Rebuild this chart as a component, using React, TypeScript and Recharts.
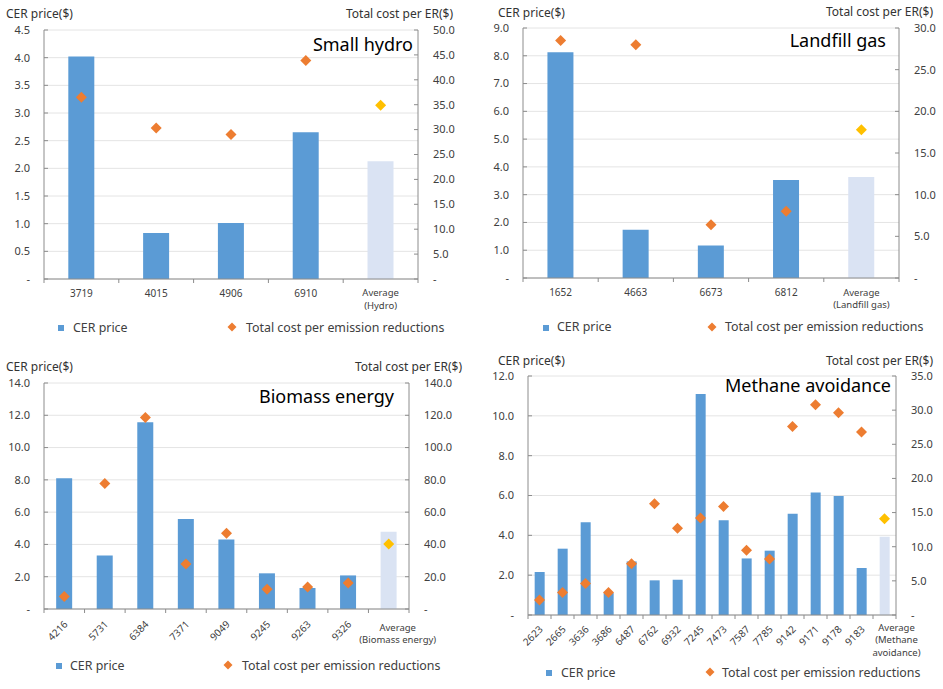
import React from "react";
import { ComposedChart, Bar, Scatter, XAxis, YAxis, CartesianGrid, Cell } from "recharts";

// ---------------- data ----------------
const hydroCategories = ["3719", "4015", "4906", "6910", "Average\n(Hydro)"];
const hydroCerPrice = [4.02, 0.83, 1.01, 2.65, 2.13];
const hydroTotalCost = [36.5, 30.3, 29.0, 43.9, 34.9];
const hydroLeftTicks = [0, 0.5, 1, 1.5, 2, 2.5, 3, 3.5, 4, 4.5];
const hydroRightTicks = [0, 5, 10, 15, 20, 25, 30, 35, 40, 45, 50];

const landfillCategories = ["1652", "4663", "6673", "6812", "Average\n(Landfill gas)"];
const landfillCerPrice = [8.13, 1.74, 1.17, 3.53, 3.64];
const landfillTotalCost = [28.5, 28.0, 6.4, 8.0, 17.8];
const landfillLeftTicks = [0, 1, 2, 3, 4, 5, 6, 7, 8, 9];
const landfillRightTicks = [0, 5, 10, 15, 20, 25, 30];

const biomassCategories = ["4216", "5731", "6384", "7371", "9049", "9245", "9263", "9326", "Average\n(Biomass energy)"];
const biomassCerPrice = [8.1, 3.32, 11.57, 5.57, 4.31, 2.21, 1.3, 2.08, 4.78];
const biomassTotalCost = [7.8, 77.7, 118.6, 27.8, 47.0, 12.2, 13.6, 16.1, 40.2];
const biomassLeftTicks = [0, 2, 4, 6, 8, 10, 12, 14];
const biomassRightTicks = [0, 20, 40, 60, 80, 100, 120, 140];

const methaneCategories = ["2623", "2665", "3636", "3686", "6487", "6762", "6932", "7245", "7473", "7587", "7785", "9142", "9171", "9178", "9183", "Average\n(Methane\navoidance)"];
const methaneCerPrice = [2.16, 3.33, 4.66, 1.1, 2.69, 1.74, 1.77, 11.1, 4.76, 2.84, 3.23, 5.08, 6.15, 5.98, 2.36, 3.93];
const methaneTotalCost = [2.2, 3.3, 4.6, 3.3, 7.5, 16.3, 12.7, 14.2, 15.9, 9.5, 8.2, 27.6, 30.8, 29.6, 26.8, 14.1];
const methaneLeftTicks = [0, 2, 4, 6, 8, 10, 12];
const methaneRightTicks = [0, 5, 10, 15, 20, 25, 30, 35];

const leftAxisTitle = "CER price($)";
const rightAxisTitle = "Total cost per ER($)";
const legendBar = "CER price";
const legendScatter = "Total cost per emission reductions";

// ---------------- styles ----------------
const FONT = "'Noto Sans', 'Open Sans', sans-serif";
const BLUE = "#5B9BD5";
const AVG_BLUE = "#DAE3F3";
const ORANGE = "#ED7D31";
const YELLOW = "#FFC000";
const AXIS = "#8C8C8C";
const GRID = "#E4E4E4";
const TEXT = "#404040";

type Layout = {
  x0: number; y0: number; w: number; h: number;
  L: number; R: number; T: number; B: number;
  xAxisH: number; rotate: boolean; gap: string;
  avgDx: number; avgDy: number; labelDy: number;
  leftTitle: [number, number]; rightTitle: [number, number];
  annot: [number, number]; legendSq: [number, number]; legendText1: number;
  legendDia: [number, number]; legendText2: number; legendBase: number;
};

function buildData(cats: string[], cer: number[], cost: number[]) {
  return cats.map((name, i) => ({ name, cer: cer[i], cost: cost[i], avg: i === cats.length - 1 }));
}

function fmt(v: number) {
  return v === 0 ? "-" : v.toFixed(1);
}

function LeftTick(props: any) {
  const { x, y, payload } = props;
  return (
    <g>
      <line x1={x} x2={x + 4} y1={y} y2={y} stroke={AXIS} />
      <text x={x - 14} y={y} dy="0.35em" textAnchor="end" fontSize={11} fill={TEXT} fontFamily={FONT}>
        {fmt(payload.value)}
      </text>
    </g>
  );
}

function RightTick(props: any) {
  const { x, y, payload } = props;
  return (
    <g>
      <line x1={x - 4} x2={x} y1={y} y2={y} stroke={AXIS} />
      <text x={x + 15} y={y} dy="0.35em" textAnchor="start" fontSize={11} fill={TEXT} fontFamily={FONT}>
        {fmt(payload.value)}
      </text>
    </g>
  );
}

function makeXTick(n: number, lay: Layout) {
  const fallbackHalf = (lay.R - lay.L) / n / 2;
  return (props: any) => {
    const { x, y, payload, index } = props;
    const half = payload && typeof payload.offset === "number" && payload.offset > 0 ? payload.offset : fallbackHalf;
    const label = String(payload.value);
    const lines = label.split("\n");
    const isAvg = lines.length > 1;
    const ax = x + (isAvg ? lay.avgDx : 0);
    return (
      <g>
        <line x1={x - half} x2={x - half} y1={y} y2={y + 4} stroke={AXIS} />
        {index === n - 1 && <line x1={x + half} x2={x + half} y1={y} y2={y + 4} stroke={AXIS} />}
        {lay.rotate && !isAvg ? (
          <text
            transform={`translate(${x + 4},${y + lay.labelDy}) rotate(-45)`}
            textAnchor="end"
            fontSize={10}
            fill={TEXT}
            fontFamily={FONT}
          >
            {label}
          </text>
        ) : (
          lines.map((l, i) => (
            <text
              key={i}
              x={ax}
              y={y + (isAvg ? lay.avgDy : 17.5) + i * 12.5}
              textAnchor="middle"
              fontSize={isAvg ? 9.5 : 10}
              fill={TEXT}
              fontFamily={FONT}
            >
              {l}
            </text>
          ))
        )}
      </g>
    );
  };
}

function DiamondShape(props: any) {
  const { cx, cy, payload } = props;
  if (cx == null || cy == null) return <g />;
  const r = 5.5;
  const fill = payload && payload.avg ? YELLOW : ORANGE;
  return <polygon points={`${cx},${cy - r} ${cx + r},${cy} ${cx},${cy + r} ${cx - r},${cy}`} fill={fill} />;
}

function Panel(props: {
  lay: Layout; title: string; cats: string[]; cer: number[]; cost: number[];
  leftTicks: number[]; rightTicks: number[];
}) {
  const { lay, title, cats, cer, cost, leftTicks, rightTicks } = props;
  const data = buildData(cats, cer, cost);
  const rightW = 40;
  const margin = {
    top: lay.T - lay.y0,
    left: 0,
    right: lay.x0 + lay.w - lay.R - rightW,
    bottom: lay.y0 + lay.h - lay.B - lay.xAxisH,
  };
  const XTick = makeXTick(cats.length, lay);
  return (
    <div style={{ position: "absolute", left: lay.x0, top: lay.y0, width: lay.w, height: lay.h }}>
      <ComposedChart width={lay.w} height={lay.h} data={data} margin={margin} barCategoryGap={lay.gap}>
        <CartesianGrid vertical={false} stroke={GRID} xAxisId="x" yAxisId="left" />
        <XAxis
          xAxisId="x"
          dataKey="name"
          type="category"
          height={lay.xAxisH}
          interval={0}
          tickSize={0}
          tickMargin={0}
          tickLine={false}
          axisLine={{ stroke: AXIS }}
          tick={<XTick />}
        />
        <YAxis
          yAxisId="left"
          orientation="left"
          width={lay.L - lay.x0}
          domain={[leftTicks[0], leftTicks[leftTicks.length - 1]]}
          ticks={leftTicks}
          interval={0}
          tickSize={0}
          tickMargin={0}
          tickLine={false}
          axisLine={{ stroke: AXIS }}
          tick={<LeftTick />}
        />
        <YAxis
          yAxisId="right"
          orientation="right"
          width={rightW}
          domain={[rightTicks[0], rightTicks[rightTicks.length - 1]]}
          ticks={rightTicks}
          interval={0}
          tickSize={0}
          tickMargin={0}
          tickLine={false}
          axisLine={{ stroke: AXIS }}
          tick={<RightTick />}
        />
        <Bar dataKey="cer" xAxisId="x" yAxisId="left" isAnimationActive={false}>
          {data.map((d, i) => (
            <Cell key={i} fill={d.avg ? AVG_BLUE : BLUE} />
          ))}
        </Bar>
        <Scatter dataKey="cost" xAxisId="x" yAxisId="right" isAnimationActive={false} shape={<DiamondShape />} />
      </ComposedChart>
      <svg
        width={lay.w}
        height={lay.h}
        style={{ position: "absolute", left: 0, top: 0, pointerEvents: "none" }}
        fontFamily={FONT}
      >
        <text x={lay.leftTitle[0] - lay.x0} y={lay.leftTitle[1] - lay.y0} fontSize={12} fill="#333">
          {leftAxisTitle}
        </text>
        <text x={lay.rightTitle[0] - lay.x0} y={lay.rightTitle[1] - lay.y0} fontSize={12} fill="#333" textAnchor="end">
          {rightAxisTitle}
        </text>
        <text x={lay.annot[0] - lay.x0} y={lay.annot[1] - lay.y0} fontSize={18} fill="#000" textAnchor="end">
          {title}
        </text>
        <rect x={lay.legendSq[0] - lay.x0} y={lay.legendSq[1] - lay.y0} width={6} height={6} fill={BLUE} />
        <text x={lay.legendText1 - lay.x0} y={lay.legendBase - lay.y0} fontSize={12.4} fill={TEXT}>
          {legendBar}
        </text>
        <polygon
          points={(() => {
            const cx = lay.legendDia[0] - lay.x0;
            const cy = lay.legendDia[1] - lay.y0;
            const r = 4.5;
            return `${cx},${cy - r} ${cx + r},${cy} ${cx},${cy + r} ${cx - r},${cy}`;
          })()}
          fill={ORANGE}
        />
        <text x={lay.legendText2 - lay.x0} y={lay.legendBase - lay.y0} fontSize={12.4} fill={TEXT}>
          {legendScatter}
        </text>
      </svg>
    </div>
  );
}

const hydroLayout: Layout = {
  x0: 0, y0: 0, w: 470, h: 340, L: 44, R: 418, T: 30, B: 279, xAxisH: 30, rotate: false, gap: "32.5%",
  avgDx: 0, avgDy: 17, labelDy: 16,
  leftTitle: [6, 18], rightTitle: [453, 18], annot: [413, 51],
  legendSq: [58, 325], legendText1: 73, legendDia: [232, 327], legendText2: 246, legendBase: 332,
};
const landfillLayout: Layout = {
  x0: 470, y0: 0, w: 473, h: 340, L: 523, R: 899, T: 28, B: 278, xAxisH: 30, rotate: false, gap: "32.5%",
  avgDx: 0, avgDy: 17.5, labelDy: 16,
  leftTitle: [498, 17], rightTitle: [933, 16], annot: [886, 47],
  legendSq: [543, 325], legendText1: 557, legendDia: [712, 327], legendText2: 725, legendBase: 331,
};
const biomassLayout: Layout = {
  x0: 0, y0: 340, w: 470, h: 349, L: 44, R: 409, T: 383, B: 609, xAxisH: 50, rotate: true, gap: "30%",
  avgDx: 9, avgDy: 21.5, labelDy: 16,
  leftTitle: [6, 371], rightTitle: [462, 371], annot: [394, 403],
  legendSq: [56, 663], legendText1: 70, legendDia: [228, 665], legendText2: 242, legendBase: 670,
};
const methaneLayout: Layout = {
  x0: 470, y0: 340, w: 473, h: 349, L: 528, R: 896, T: 376, B: 615, xAxisH: 50, rotate: true, gap: "29%",
  avgDx: 12, avgDy: 15.5, labelDy: 15,
  leftTitle: [498, 365], rightTitle: [933, 365], annot: [891, 392],
  legendSq: [546, 670], legendText1: 561, legendDia: [710, 672], legendText2: 722, legendBase: 677,
};

export default function App() {
  return (
    <div style={{ position: "absolute", left: 0, top: 0, width: 943, height: 689, background: "#fff", fontFamily: FONT }}>
      <Panel lay={hydroLayout} title="Small hydro" cats={hydroCategories} cer={hydroCerPrice} cost={hydroTotalCost} leftTicks={hydroLeftTicks} rightTicks={hydroRightTicks} />
      <Panel lay={landfillLayout} title="Landfill gas" cats={landfillCategories} cer={landfillCerPrice} cost={landfillTotalCost} leftTicks={landfillLeftTicks} rightTicks={landfillRightTicks} />
      <Panel lay={biomassLayout} title="Biomass energy" cats={biomassCategories} cer={biomassCerPrice} cost={biomassTotalCost} leftTicks={biomassLeftTicks} rightTicks={biomassRightTicks} />
      <Panel lay={methaneLayout} title="Methane avoidance" cats={methaneCategories} cer={methaneCerPrice} cost={methaneTotalCost} leftTicks={methaneLeftTicks} rightTicks={methaneRightTicks} />
    </div>
  );
}
